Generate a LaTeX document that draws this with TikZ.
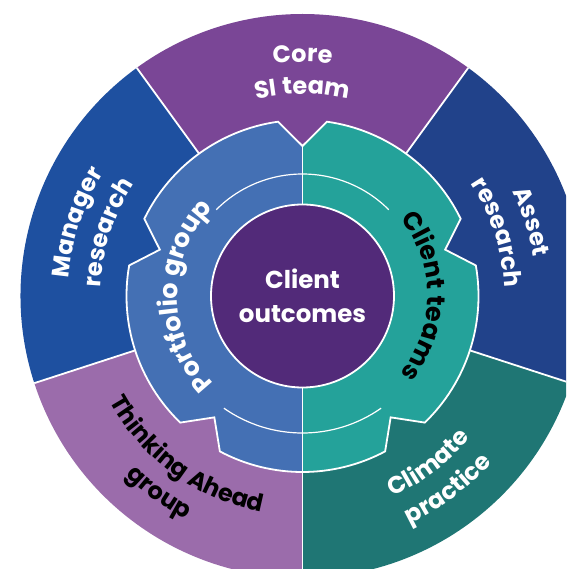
\documentclass[tikz,border=0pt]{standalone}
\usepackage{fontspec}
\setmainfont{Poppins}
\usetikzlibrary{decorations.text}

\definecolor{coresi}{RGB}{122,70,150}
\definecolor{manager}{RGB}{30,80,160}
\definecolor{asset}{RGB}{33,66,138}
\definecolor{thinking}{RGB}{155,108,171}
\definecolor{climate}{RGB}{31,118,116}
\definecolor{portfolio}{RGB}{68,112,180}
\definecolor{clientteam}{RGB}{36,162,154}
\definecolor{outcome}{RGB}{82,42,121}

\newcommand{\labelfont}{\fontsize{24}{28}\selectfont\bfseries}
\newcommand{\gearfont}{\fontsize{25.5}{28}\selectfont\bfseries}
% gear outline: five V notches between plain arcs
\newcommand{\gearpath}{(98:176) \foreach \ang in {90,18,-54,-126,-198}
  {-- (\ang:150) -- (\ang-8:176) arc[start angle=\ang-8,delta angle=-56,radius=176]} -- cycle}
% text on an arc round the centre, letters facing out (cw) or in (ccw)
\newcommand{\cwlabel}[5][\labelfont]{\path[decorate,decoration={text along path,text align=center,
    text={|#1\color{#2}|#5}}] (#3+60:#4) arc[start angle=#3+60,end angle=#3-60,radius=#4];}
\newcommand{\ccwlabel}[5][\labelfont]{\path[decorate,decoration={text along path,text align=center,
    text={|#1\color{#2}|#5}}] (#3-60:#4) arc[start angle=#3-60,end angle=#3+60,radius=#4];}

\tikzset{
  sep/.style={draw=white,line width=1.8pt},
  thinarc/.style={draw=white,line width=1.2pt},
  hub/.style={circle,fill=outcome,draw=white,line width=1.8pt,minimum size=183pt,
    inner sep=0pt,align=center,text=white,font=\fontsize{24.5}{34}\selectfont\bfseries}
}

\begin{document}
\begin{tikzpicture}[x=1pt,y=1pt]
  \clip (-302.5,-273) rectangle (263.5,296);
  % outer ring
  \foreach \c/\a in {asset/-18,coresi/54,manager/126,thinking/198,climate/270}
    \fill[\c] (0,0) -- (\a:282) arc[start angle=\a,delta angle=72,radius=282] -- cycle;
  \foreach \a in {54,126,198,342}
    \draw[sep] (0,0) -- (\a:282);

  % gear, split down the middle
  \begin{scope}
    \clip \gearpath;
    \fill[portfolio] (-200,-200) rectangle (0,200);
    \fill[clientteam] (0,-200) rectangle (200,200);
  \end{scope}
  \draw[sep,line join=miter] \gearpath;
  \draw[sep] (90:150) -- (270:282);
  \draw[thinarc] (45:122) arc[start angle=45,end angle=135,radius=122];
  \draw[thinarc] (235:137) arc[start angle=235,end angle=305,radius=137];

  \node[hub] (outcomes) at (0,0) {Client\\outcomes};

  % ring labels
  \cwlabel{white}{90}{234}{Core}
  \cwlabel{white}{90}{202}{SI team}
  \cwlabel{white}{162}{234}{Manager}
  \cwlabel{white}{162}{202}{research}
  \cwlabel{white}{18}{234}{Asset}
  \cwlabel{white}{18}{202}{research}
  \ccwlabel{black}{234}{220}{Thinking Ahead}
  \ccwlabel{black}{234}{252}{group}
  \ccwlabel{white}{307}{220}{Climate}
  \ccwlabel{white}{307}{252}{practice}
  \cwlabel[\gearfont]{white}{180}{125}{Portfolio group}
  \cwlabel[\gearfont]{black}{0}{125}{Client teams}
\end{tikzpicture}
\end{document}
